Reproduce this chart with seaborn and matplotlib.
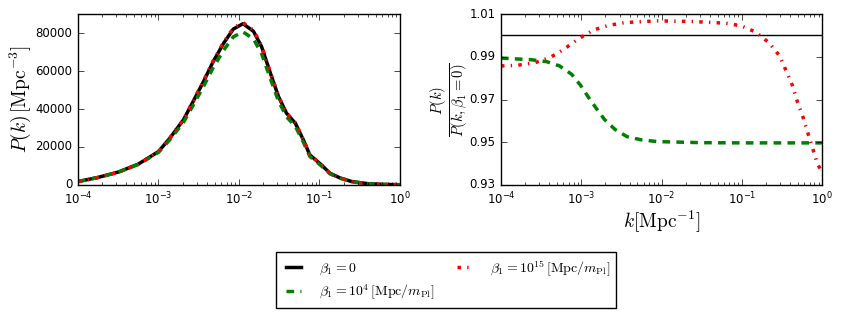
import numpy as np
import pandas as pd
import seaborn as sns
import matplotlib
matplotlib.use('Agg')
import matplotlib.pyplot as plt
from matplotlib.ticker import FormatStrFormatter


# power spectrum, log10(k) grid
logk_p = [-4.0, -3.75, -3.5, -3.25, -3.0, -2.86, -2.69, -2.57, -2.44, -2.32,
          -2.19, -2.07, -1.95, -1.82, -1.72, -1.61, -1.51, -1.41, -1.30, -1.20,
          -1.12, -0.99, -0.87, -0.75, -0.6, -0.4, -0.2, 0.0]
pk_b0 = [1800, 4000, 6800, 11000, 17600, 24600, 34300, 43900, 54500, 65000,
         74700, 82100, 84900, 80900, 72900, 58900, 46600, 37800, 32500, 23700,
         15800, 11100, 6200, 3800, 1800, 700, 300, 150]
pk_b4 = [1780, 3955, 6720, 10840, 17180, 23810, 32930, 41950, 51930, 61820,
         71000, 78000, 80630, 76830, 69230, 55940, 44260, 35900, 30870, 22510,
         15010, 10540, 5890, 3610, 1710, 665, 285, 142]
pk_b15 = [1774, 3945, 6720, 10918, 17588, 24657, 34451, 44141, 54832, 65416,
          75193, 82658, 85477, 81442, 73381, 59283, 46894, 38031, 32689, 23835,
          15882, 11149, 6216, 3798, 1790, 686, 287, 140]

# ratios to beta_1 = 0
logk_r4 = [-4.0, -3.62, -3.43, -3.27, -3.12, -3.01, -2.91, -2.81, -2.71, -2.58,
           -2.43, -2.25, -2.05, -1.5, -1.0, -0.5, 0.0]
ratio_b4 = [0.9894, 0.9886, 0.9877, 0.9857, 0.9818, 0.9767, 0.9710, 0.9657,
            0.9606, 0.9560, 0.9526, 0.9511, 0.9503, 0.9498, 0.9497, 0.9497, 0.9497]
logk_r15 = [-4.0, -3.8, -3.58, -3.38, -3.21, -3.04, -2.85, -2.67, -2.46, -2.05,
            -1.61, -1.2, -1.01, -0.83, -0.66, -0.53, -0.45, -0.37, -0.31, -0.24,
            -0.18, -0.12, -0.06, 0.0]
ratio_b15 = [0.9857, 0.986, 0.9872, 0.9898, 0.9937, 0.9983, 1.0025, 1.0046,
             1.006, 1.0068, 1.0065, 1.0057, 1.0045, 1.0016, 0.9965, 0.9904,
             0.9835, 0.9765, 0.9691, 0.9619, 0.9545, 0.9473, 0.9399, 0.936]
logk_r0 = [-4.0, 0.0]
ratio_b0 = [1.0, 1.0]

labels = [r'$\beta_1=0$',
          r'$\beta_1=10^4\,[\mathrm{Mpc}/m_{\mathrm{Pl}}]$',
          r'$\beta_1=10^{15}\,[\mathrm{Mpc}/m_{\mathrm{Pl}}]$']

plt.style.use('classic')
plt.rcParams['figure.facecolor'] = 'white'
plt.rcParams['savefig.facecolor'] = 'white'
plt.rcParams['mathtext.fontset'] = 'cm'
plt.rcParams['xtick.labelsize'] = 8.5
plt.rcParams['ytick.labelsize'] = 8.5

dash = (0, (5.5, 4.5))
dashdot = (0, (2.5, 4.5, 1, 4.5))

fig = plt.figure(figsize=(8.43, 3.16), dpi=100)
ax1 = fig.add_axes([0.0925, 0.4146, 0.382, 0.541])
ax2 = fig.add_axes([0.5943, 0.4146, 0.381, 0.541])

k_p = 10 ** np.array(logk_p)
sns.lineplot(x=k_p, y=pk_b0, ax=ax1, color='k', lw=2.5, label=labels[0])
sns.lineplot(x=k_p, y=pk_b4, ax=ax1, color='g', lw=2.5, linestyle=dash, label=labels[1])
sns.lineplot(x=k_p, y=pk_b15, ax=ax1, color='r', lw=2.5, linestyle=dashdot, label=labels[2])

sns.lineplot(x=10 ** np.array(logk_r0), y=ratio_b0, ax=ax2, color='k', lw=1)
sns.lineplot(x=10 ** np.array(logk_r4), y=ratio_b4, ax=ax2, color='g', lw=2.5, linestyle=dash)
sns.lineplot(x=10 ** np.array(logk_r15), y=ratio_b15, ax=ax2, color='r', lw=2.5, linestyle=dashdot)

for ax in (ax1, ax2):
    ax.set_xscale('log')
    ax.set_xlim(1e-4, 1)

ax1.set_ylim(0, 90000)
ax1.set_yticks([0, 20000, 40000, 60000, 80000])
ax1.set_ylabel(r'$P(k)\,[\mathrm{Mpc}^{-3}]$', fontsize=14, labelpad=2)

ax2.set_ylim(0.93, 1.01)
ax2.set_yticks([0.93, 0.95, 0.97, 0.99, 1.01])
ax2.yaxis.set_major_formatter(FormatStrFormatter('%.2f'))
ax2.set_ylabel(r'$\frac{P(k)}{P(k,\beta_1=0)}$', fontsize=15, labelpad=-1)
ax2.set_xlabel(r'$k[\mathrm{Mpc}^{-1}]$', fontsize=14, labelpad=1)

handles, labs = ax1.get_legend_handles_labels()
ax1.get_legend().remove()
fig.legend(handles, labs, loc='center', bbox_to_anchor=(0.529, 0.114), ncol=2,
           fontsize=10, columnspacing=1.3, handlelength=1.7, handletextpad=1.0,
           borderpad=0.4, labelspacing=0.4, frameon=True, fancybox=False)

fig.savefig('out.png', dpi=100)
